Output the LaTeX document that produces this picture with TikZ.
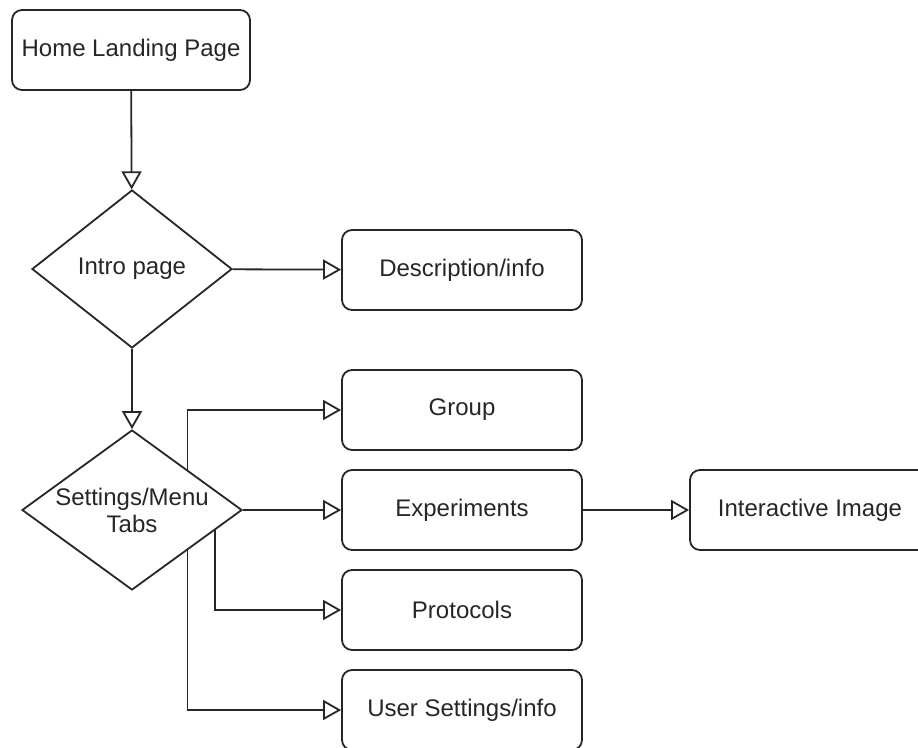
\documentclass[tikz,border=0pt]{standalone}
\usepackage{fontspec}
\setmainfont{Liberation Sans}
\usetikzlibrary{shapes.geometric,arrows.meta,calc}

\tikzset{
  page/.style={draw=black!85, rounded corners=10pt, line width=1.8pt,
    minimum width=240pt, minimum height=80pt, text=black!85,
    font=\fontsize{24}{28}\selectfont},
  choice/.style={draw=black!85, diamond, line width=1.8pt, inner sep=-6pt,
    align=center, text=black!85, font=\fontsize{24}{27}\selectfont},
  link/.style={draw=black!85, line width=1.8pt,
    -{Triangle[open, length=18pt, width=20pt]}}
}

\begin{document}
\begin{tikzpicture}[x=1pt, y=-1pt]
  \useasboundingbox (0,0) rectangle (918,747);

  \node[page, minimum width=238pt] (home) at (131,50) {Home Landing Page};
  \node[choice, aspect=1.27, minimum width=200pt, minimum height=158pt] (intro) at (132,269) {Intro page};
  \node[page] (desc) at (462,270) {Description/info};
  \node[choice, aspect=1.375, minimum width=220pt, minimum height=160pt] (set) at (132,510) {Settings/Menu\\Tabs};

  \node[page] (grp)  at (462,410) {Group};
  \node[page] (exp)  at (462,510) {Experiments};
  \node[page] (prot) at (462,610) {Protocols};
  \node[page] (user) at (462,710) {User Settings/info};
  \node[page] (img)  at (810,510) {Interactive Image};

  % exit point on the lower right side of the menu
  \coordinate (set-p) at ($(set.east)!0.25!(set.south)$);

  \path[link]
  (home) edge (intro)
  (intro) edge (desc)
          edge (set)
  (set) edge (exp)
  (exp) edge (img);
  % elbow connectors out of the menu
  \draw[link] (set.north east) |- (grp.west);
  \draw[link] (set-p) |- (prot.west);
  \draw[link] (set.south east) |- (user.west);
\end{tikzpicture}
\end{document}
